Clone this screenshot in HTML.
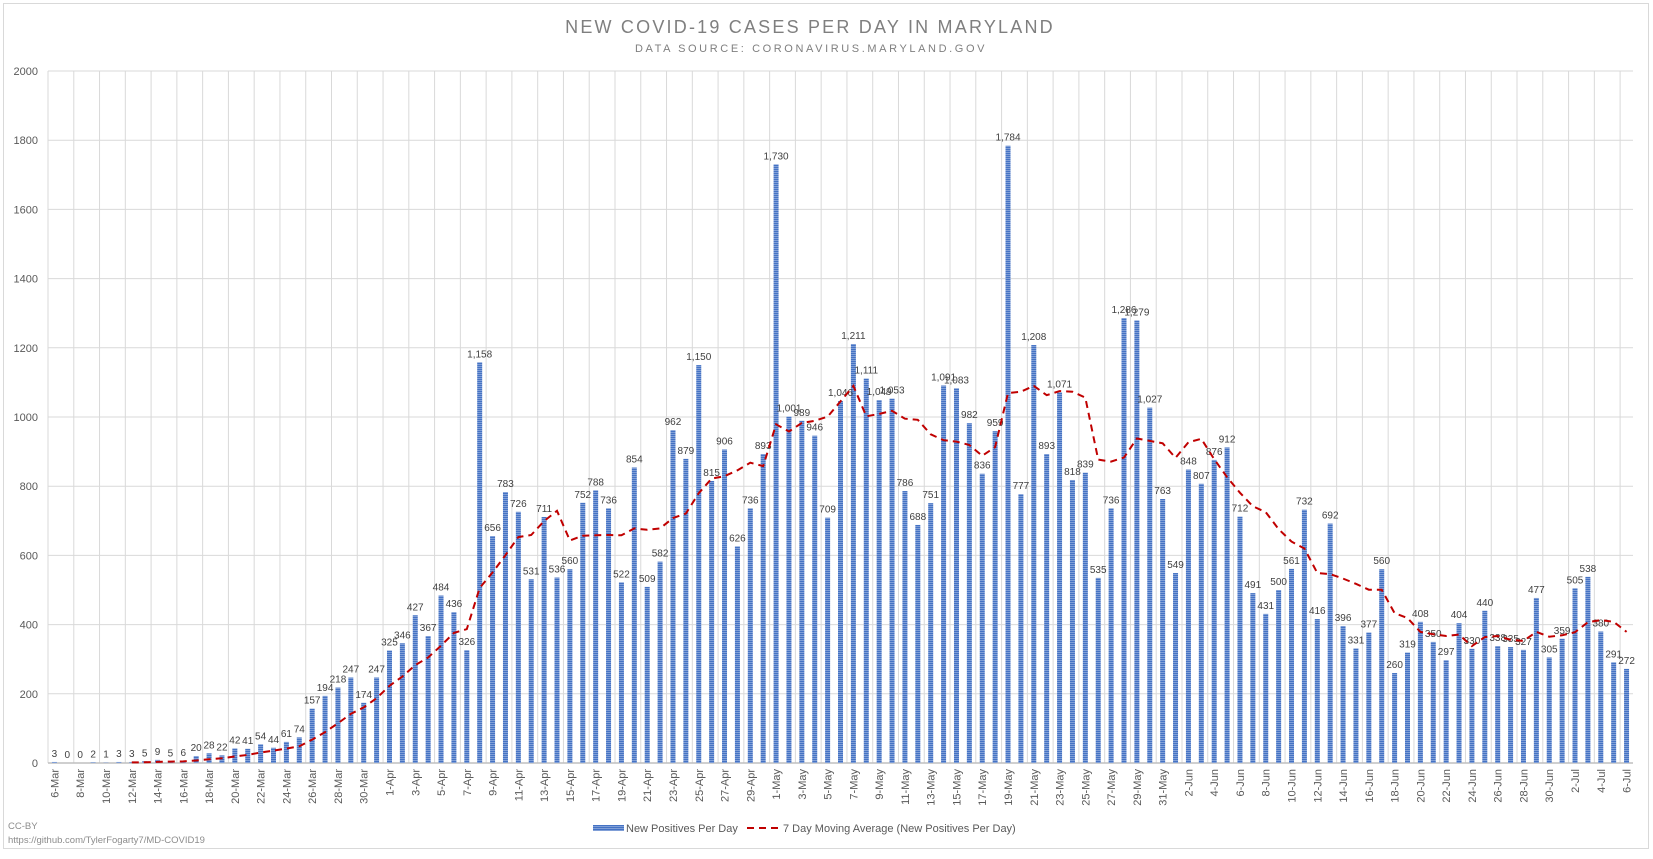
<!DOCTYPE html>
<html><head><meta charset="utf-8"><style>
body{margin:0;background:#fff;font-family:"Liberation Sans",sans-serif}
svg text{font-family:"Liberation Sans",sans-serif}
</style></head><body>
<svg id="chart" width="1653" height="854" xmlns="http://www.w3.org/2000/svg">
<defs><pattern id="stripe" width="4" height="2" patternUnits="userSpaceOnUse"><rect width="4" height="2" fill="#4472C4"/><rect width="4" height="0.8" fill="#8faadc"/></pattern></defs>
<rect x="3.5" y="3.5" width="1645" height="845" fill="#fff" stroke="#d9d9d9"/>
<text x="810" y="33" text-anchor="middle" font-size="18" fill="#7f7f7f" letter-spacing="2.2">NEW COVID-19 CASES PER DAY IN MARYLAND</text>
<text x="811" y="52" text-anchor="middle" font-size="11" fill="#7f7f7f" letter-spacing="2.6">DATA SOURCE: CORONAVIRUS.MARYLAND.GOV</text>
<g id="grid"></g><g id="bars"></g><g id="labels"></g><g id="ma"></g><g id="xt"></g><g id="yt"></g>
<text x="8" y="829" font-size="9.5" fill="#8c8c8c">CC-BY</text>
<text x="8" y="843" font-size="9.5" fill="#8c8c8c">https://github.com/TylerFogarty7/MD-COVID19</text>
<g>
<rect x="593" y="825" width="31" height="6" fill="url(#stripe)"/>
<text x="626" y="832" font-size="11" fill="#595959">New Positives Per Day</text>
<line x1="747" y1="828" x2="781" y2="828" stroke="#c00000" stroke-width="2" stroke-dasharray="7,5"/>
<text x="783" y="832" font-size="11" fill="#595959">7 Day Moving Average (New Positives Per Day)</text>
</g>
</svg>
<script>
const monthNames = ["Mar","Apr","May","Jun","Jul"];
const monthDays = [[6,31],[1,30],[1,31],[1,30],[1,6]];
const cases = [3,0,0,2,1,3,3,5,9,5,6,20,28,22,42,41,54,44,61,74,157,194,218,247,174,247,
325,346,427,367,484,436,326,1158,656,783,726,531,711,536,560,752,788,736,522,854,509,582,962,879,1150,815,906,626,736,893,
1730,1001,989,946,709,1046,1211,1111,1049,1053,786,688,751,1091,1083,982,836,959,1784,777,1208,893,1071,818,839,535,736,1286,1279,1027,763,
549,848,807,876,912,712,491,431,500,561,732,416,692,396,331,377,560,260,319,408,350,297,404,330,440,338,335,327,477,305,
359,505,538,380,291,272];
const maStart = 6;
const movingAvg = [1.7,2,3.3,4,4.6,7.3,10.9,13.6,18.9,23.4,30.4,35.9,41.7,48.3,67.6,89.3,114.6,142,160.7,187.3,
223,250,283,305,339,376,387,506,551,601,653,659,699,729,643,657,658,659,658,678,674,678,708,721,780,822,829,846,868,858,
979,958,983,989,1001,1045,1090,1002,1009,1018,995,992,950,933,929,919,888,913,1069,1073,1090,1063,1075,1073,1056,877,871,883,938,931,924,
882,927,937,878,826,781,742,725,676,640,620,549,546,533,518,501,501,433,419,379,372,367,371,338,364,367,356,353,379,365,
369,378,407,413,408,379];
const yTicks = [0,200,400,600,800,1000,1200,1400,1600,1800,2000];
const categories = [];
monthNames.forEach((m,i)=>{for(let d=monthDays[i][0];d<=monthDays[i][1];d++)categories.push(d+"-"+m);});

const X0=48,X1=1633,Y0=763,YT=71,YMAX=2000;
const step=(X1-X0)/categories.length;
const xc=i=>X0+step*(i+0.5);
const y=v=>Y0-(v/YMAX)*(Y0-YT);
const NS="http://www.w3.org/2000/svg";
function mk(tag,attrs,parent,txt){const e=document.createElementNS(NS,tag);for(const k in attrs)e.setAttribute(k,attrs[k]);if(txt!==undefined)e.textContent=txt;document.getElementById(parent).appendChild(e);return e;}
function fmt(v){return v.toLocaleString("en-US");}

yTicks.forEach(t=>{
  const l=mk("line",{x1:X0,x2:X1,y1:y(t),y2:y(t),stroke:"#d9d9d9","stroke-width":1},"grid");
  
  
  const tx=mk("text",{x:X0-10,y:y(t)+4,"text-anchor":"end","font-size":11,fill:"#595959"},"yt",String(t));
  
  
});
for(let i=0;i<=categories.length;i+=2){
  const gx=X0+step*i;
  const l=mk("line",{x1:gx,x2:gx,y1:YT,y2:Y0,stroke:"#d9d9d9","stroke-width":1},"grid");
  
  
}
const ax=mk("line",{x1:X0,x2:X1,y1:Y0,y2:Y0,stroke:"#bfbfbf","stroke-width":1.5},"grid");



cases.forEach((v,i)=>{
  const bw=5;
  const b=mk("rect",{x:xc(i)-bw/2,y:y(v),width:bw,height:Y0-y(v),fill:"url(#stripe)"},"bars");
  
  
  const t=mk("text",{x:xc(i),y:y(v)-5,"text-anchor":"middle","font-size":10,fill:"#404040"},"labels",fmt(v));
  
  
});
categories.forEach((c,i)=>{
  if(i%2)return;
  const t=mk("text",{transform:`translate(${xc(i)+4},769) rotate(-90)`,"text-anchor":"end","font-size":11,fill:"#595959"},"xt",c);
  
  
});
const pts=movingAvg.map((v,k)=>xc(k+maStart).toFixed(1)+","+y(v).toFixed(1)).join(" ");
const pl=mk("polyline",{points:pts,fill:"none",stroke:"#c00000","stroke-width":2,"stroke-dasharray":"7,5"},"ma");


</script>
</body></html>
